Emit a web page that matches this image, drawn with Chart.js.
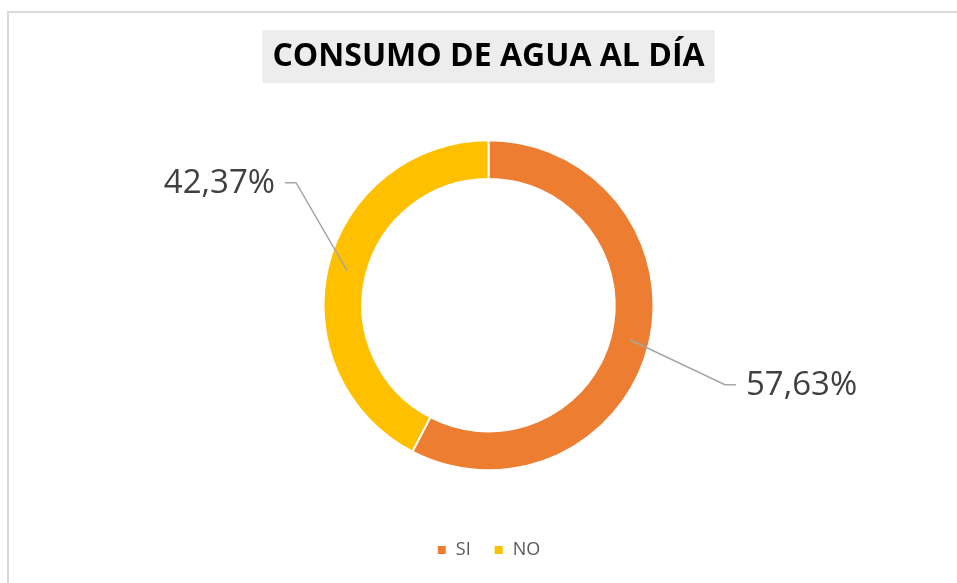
<!DOCTYPE html>
<html lang="es">
<head>
<meta charset="utf-8">
<title>Consumo de agua al día</title>
<script src="https://cdn.jsdelivr.net/npm/chart.js@4"></script>
<style>
  html, body {
    margin: 0;
    padding: 0;
    background: #ffffff;
  }
  #wrap {
    position: relative;
    width: 957px;
    height: 583px;
    overflow: hidden;
  }
  #frame {
    position: absolute;
    left: 7px;
    top: 11px;
    width: 960px;
    height: 600px;
    border-left: 2px solid #d9d9d9;
    border-top: 2px solid #d9d9d9;
  }
  #myChart {
    position: absolute;
    left: 0;
    top: 0;
  }
</style>
</head>
<body>
<div id="wrap">
  <div id="frame"></div>
  <canvas id="myChart" width="957" height="583"></canvas>
</div>
<script>
const categorias = ["SI", "NO"];
const porcentajes = [57.63, 42.37];
const colores = ["#ED7D31", "#FFC000"];
const titulo = "CONSUMO DE AGUA AL DÍA";

document.addEventListener("DOMContentLoaded", function () {
  // caja gris detras del titulo
  const tituloFondo = {
    id: "tituloFondo",
    beforeDraw(chart) {
      const tb = chart.titleBlock;
      if (!tb) return;
      const ctx = chart.ctx;
      const opts = chart.options.plugins.title;
      ctx.save();
      ctx.font = opts.font.weight + " " + opts.font.size + "px " + opts.font.family;
      const w = ctx.measureText(titulo).width;
      const cx = (tb.left + tb.right) / 2;
      const cy = tb.top + opts.padding.top + (opts.font.size * 1.2) / 2;
      ctx.fillStyle = "#ededed";
      ctx.fillRect(cx - w / 2 - 10, cy - 27, w + 20, 53);
      ctx.restore();
    }
  };

  // etiquetas con lineas guia
  const desplaz = [
    { dx: 95, dy: 45, lado: 1 },
    { dx: -51, dy: -88, lado: -1 }
  ];

  const etiquetas = {
    id: "etiquetas",
    afterDatasetsDraw(chart) {
      const ctx = chart.ctx;
      const meta = chart.getDatasetMeta(0);
      ctx.save();
      meta.data.forEach(function (arc, i) {
        const p = arc.getProps(["x", "y", "startAngle", "endAngle", "innerRadius", "outerRadius"], true);
        const mid = (p.startAngle + p.endAngle) / 2;
        const r = (p.innerRadius + p.outerRadius) / 2;
        const ax = p.x + Math.cos(mid) * r;
        const ay = p.y + Math.sin(mid) * r;
        const d = desplaz[i];
        const ex = ax + d.dx;
        const ey = ay + d.dy;
        const fx = ex + d.lado * 11;

        ctx.strokeStyle = "#a6a6a6";
        ctx.lineWidth = 1.5;
        ctx.beginPath();
        ctx.moveTo(ax, ay);
        ctx.lineTo(ex, ey);
        ctx.lineTo(fx, ey);
        ctx.stroke();

        const texto = porcentajes[i].toFixed(2).replace(".", ",") + "%";
        ctx.font = "33px 'Open Sans'";
        ctx.fillStyle = "#404040";
        ctx.textBaseline = "middle";
        ctx.textAlign = d.lado > 0 ? "left" : "right";
        ctx.fillText(texto, fx + d.lado * 10, ey + 1);
      });
      ctx.restore();
    }
  };

  const ctx = document.getElementById("myChart").getContext("2d");

  const chart = new Chart(ctx, {
    type: "doughnut",
    data: {
      labels: categorias,
      datasets: [
        {
          data: porcentajes,
          backgroundColor: colores,
          borderColor: "#ffffff",
          borderWidth: 2
        }
      ]
    },
    options: {
      responsive: false,
      animation: false,
      devicePixelRatio: 1,
      radius: 165,
      cutout: "76.5%",
      layout: {
        padding: { top: 0, bottom: 14, left: 40, right: 20 }
      },
      plugins: {
        title: {
          display: true,
          text: titulo,
          color: "#000000",
          font: { family: "'Open Sans'", size: 32, weight: "bold" },
          padding: { top: 38, bottom: 16 }
        },
        legend: {
          position: "bottom",
          labels: {
            boxWidth: 10,
            boxHeight: 10,
            padding: 23,
            color: "#595959",
            font: { family: "'Open Sans'", size: 18 }
          }
        },
        tooltip: { enabled: false }
      }
    },
    plugins: [tituloFondo, etiquetas]
  });
});
</script>
</body>
</html>
